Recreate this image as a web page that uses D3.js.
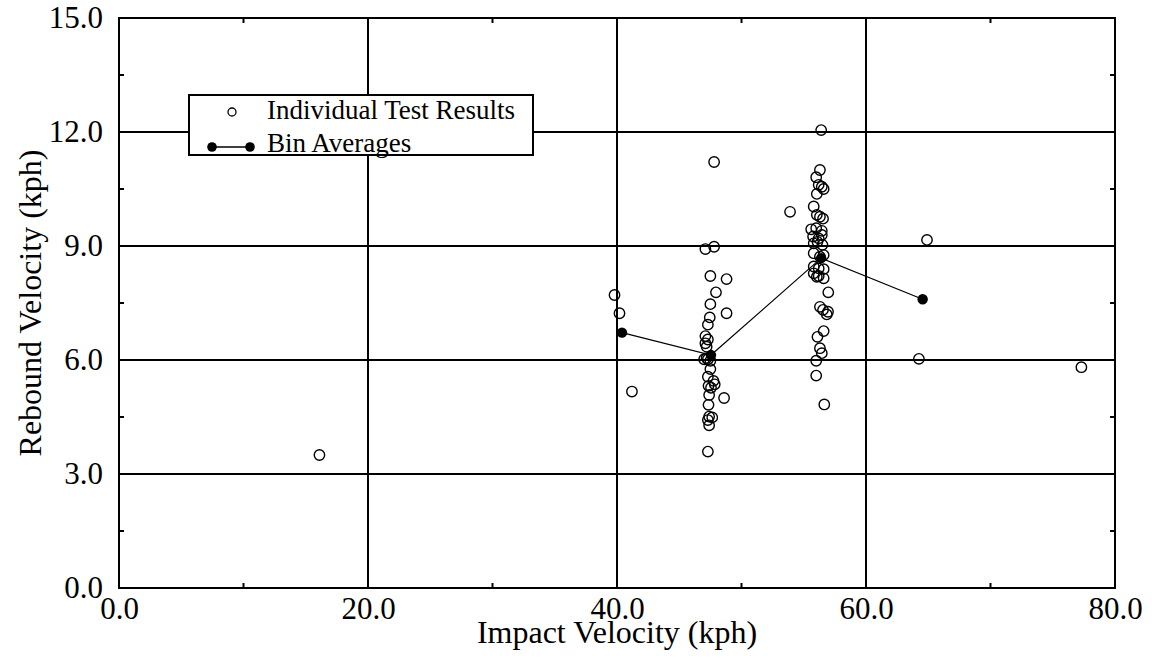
<!DOCTYPE html>
<html>
<head>
<meta charset="utf-8">
<script src="https://cdn.jsdelivr.net/npm/d3@7"></script>
<style>
  body { margin: 0; background: #fff; }
  text { font-family: 'Liberation Serif', 'Times New Roman', Times, serif; fill: #000; }
</style>
</head>
<body>
<svg id="chart" width="1152" height="658"></svg>
<script>
// Impact velocity (kph) / rebound velocity (kph) of each test
var testImpact = [
  16.1, 39.8, 40.2, 41.2,
  47.8, 47.1, 47.8, 47.5, 48.8, 47.95, 47.5, 48.8, 47.45, 47.3,
  47.1, 47.3, 47.1, 47.2, 47.0, 47.3, 47.5, 47.2, 47.5, 47.3, 47.75, 47.85,
  47.35, 47.55, 47.4, 48.6, 47.35, 47.4, 47.65, 47.3, 47.4, 47.3,
  53.9,
  56.4, 56.3, 56.0, 56.2, 56.45, 56.6, 56.05, 55.8, 56.05, 56.3, 56.55,
  55.6, 56.0, 56.45, 55.75, 56.2, 56.45, 55.8, 56.1, 56.5, 55.8, 56.3, 56.6,
  55.8, 56.2, 56.6, 55.8, 56.05, 56.2, 56.6, 56.97, 56.3, 56.55, 56.95, 56.85,
  56.6, 56.1, 56.3, 56.45, 56.0, 56.0, 56.65,
  64.9, 64.25, 77.3
];
var testRebound = [
  3.50, 7.71, 7.23, 5.17,
  11.21, 8.92, 8.98, 8.21, 8.13, 7.78, 7.47, 7.23, 7.12, 6.93,
  6.63, 6.54, 6.44, 6.35, 6.02, 6.02, 5.98, 6.05, 5.76, 5.56, 5.45, 5.36,
  5.32, 5.27, 5.08, 5.00, 4.82, 4.51, 4.49, 4.42, 4.28, 3.59,
  9.90,
  12.05, 11.00, 10.81, 10.61, 10.56, 10.50, 10.37, 10.04, 9.82, 9.77, 9.72,
  9.44, 9.47, 9.40, 9.25, 9.20, 9.29, 9.07, 9.11, 9.03, 8.81, 8.72, 8.76,
  8.46, 8.41, 8.39, 8.28, 8.19, 8.21, 8.15, 7.78, 7.40, 7.32, 7.27, 7.20,
  6.76, 6.61, 6.31, 6.18, 5.98, 5.59, 4.83,
  9.16, 6.03, 5.81
];

// bin averages
var binImpact = [40.4, 47.55, 56.4, 64.55];
var binRebound = [6.72, 6.13, 8.68, 7.6];

var xTicks = [0, 20, 40, 60, 80],
    yTicks = [0, 3, 6, 9, 12, 15],
    xMinor = [10, 30, 50, 70],
    yMinor = [1.5, 4.5, 7.5, 10.5, 13.5];

var legendLabels = ['Individual Test Results', 'Bin Averages'];

var svg, x, y, g;

function createChart() {
  svg = d3.select('#chart');

  x = d3.scaleLinear().domain([0, 80]).range([119, 1115]);
  y = d3.scaleLinear().domain([0, 15]).range([588, 18]);

  g = svg.append('g');

  // grid lines
  g.selectAll('.vgrid')
   .data(xTicks.slice(1, -1))
   .enter().append('line')
     .attr('x1', x).attr('x2', x)
     .attr('y1', y(0)).attr('y2', y(15))
     .attr('stroke', '#000').attr('stroke-width', 2);

  g.selectAll('.hgrid')
   .data(yTicks.slice(1, -1))
   .enter().append('line')
     .attr('x1', x(0)).attr('x2', x(80))
     .attr('y1', y).attr('y2', y)
     .attr('stroke', '#000').attr('stroke-width', 2);

  // minor ticks, inside on all four sides
  var tl = 5;
  xMinor.forEach(function(v) {
    g.append('line').attr('x1', x(v)).attr('x2', x(v))
     .attr('y1', y(0)).attr('y2', y(0) - tl).attr('stroke', '#000').attr('stroke-width', 2);
    g.append('line').attr('x1', x(v)).attr('x2', x(v))
     .attr('y1', y(15)).attr('y2', y(15) + tl).attr('stroke', '#000').attr('stroke-width', 2);
  });
  yMinor.forEach(function(v) {
    g.append('line').attr('x1', x(0)).attr('x2', x(0) + tl)
     .attr('y1', y(v)).attr('y2', y(v)).attr('stroke', '#000').attr('stroke-width', 2);
    g.append('line').attr('x1', x(80)).attr('x2', x(80) - tl)
     .attr('y1', y(v)).attr('y2', y(v)).attr('stroke', '#000').attr('stroke-width', 2);
  });

  // frame
  g.append('rect')
   .attr('x', x(0)).attr('y', y(15))
   .attr('width', x(80) - x(0)).attr('height', y(0) - y(15))
   .attr('fill', 'none').attr('stroke', '#000').attr('stroke-width', 2);

  // axes (labels only)
  var fmt = d3.format('.1f');
  var xAxis = svg.append('g')
     .attr('transform', 'translate(0,' + y(0) + ')')
     .call(d3.axisBottom(x).tickValues(xTicks).tickFormat(fmt).tickSize(0).tickPadding(9));
  var yAxis = svg.append('g')
     .attr('transform', 'translate(' + x(0) + ',0)')
     .call(d3.axisLeft(y).tickValues(yTicks).tickFormat(fmt).tickSize(0).tickPadding(16));
  [xAxis, yAxis].forEach(function(a) {
    a.attr('font-family', null).attr('font-size', null);
    a.select('.domain').remove();
    a.selectAll('text').style('font-family', "'Liberation Serif', 'Times New Roman', serif").style('font-size', '31px').attr('fill', '#000');
  });

  // titles
  svg.append('text')
     .attr('x', (x(0) + x(80)) / 2).attr('y', 643)
     .attr('text-anchor', 'middle')
     .style('font-size', '32px')
     .text('Impact Velocity (kph)');
  svg.append('text')
     .attr('transform', 'translate(41,' + (y(0) + y(15)) / 2 + ') rotate(-90)')
     .attr('text-anchor', 'middle')
     .style('font-size', '32px')
     .text('Rebound Velocity (kph)');

  // individual results
  var pts = testImpact.map(function(v, i) { return [v, testRebound[i]]; });
  g.selectAll('.test')
   .data(pts)
   .enter().append('circle')
     .attr('class', 'test')
     .attr('cx', function(d) { return x(d[0]); })
     .attr('cy', function(d) { return y(d[1]); })
     .attr('r', 5.2)
     .attr('fill', 'none')
     .attr('stroke', '#000')
     .attr('stroke-width', 1.4);

  // bin averages
  var bins = binImpact.map(function(v, i) { return [v, binRebound[i]]; });
  g.append('path')
   .datum(bins)
   .attr('d', d3.line().x(function(d) { return x(d[0]); }).y(function(d) { return y(d[1]); }))
   .attr('fill', 'none')
   .attr('stroke', '#000')
   .attr('stroke-width', 1.2);
  g.selectAll('.bin')
   .data(bins)
   .enter().append('circle')
     .attr('class', 'bin')
     .attr('cx', function(d) { return x(d[0]); })
     .attr('cy', function(d) { return y(d[1]); })
     .attr('r', 5.2)
     .attr('fill', '#000');

  drawLegend();
}

function drawLegend() {
  var lg = svg.append('g').attr('transform', 'translate(189,95)');
  lg.append('rect')
    .attr('width', 344).attr('height', 60)
    .attr('fill', '#fff').attr('stroke', '#000').attr('stroke-width', 2);

  lg.append('circle')
    .attr('cx', 43).attr('cy', 17).attr('r', 4)
    .attr('fill', 'none').attr('stroke', '#000').attr('stroke-width', 1.3);

  lg.append('line')
    .attr('x1', 23).attr('x2', 61).attr('y1', 52).attr('y2', 52)
    .attr('stroke', '#000').attr('stroke-width', 1.3);
  lg.selectAll('.ldot')
    .data([23, 61])
    .enter().append('circle')
      .attr('cx', function(d) { return d; }).attr('cy', 52).attr('r', 4.8)
      .attr('fill', '#000');

  lg.selectAll('.ltext')
    .data(legendLabels)
    .enter().append('text')
      .attr('x', 78)
      .attr('y', function(d, i) { return 24 + i * 33; })
      .style('font-size', '27px')
      .text(function(d) { return d; });
}

createChart();
</script>
</body>
</html>
